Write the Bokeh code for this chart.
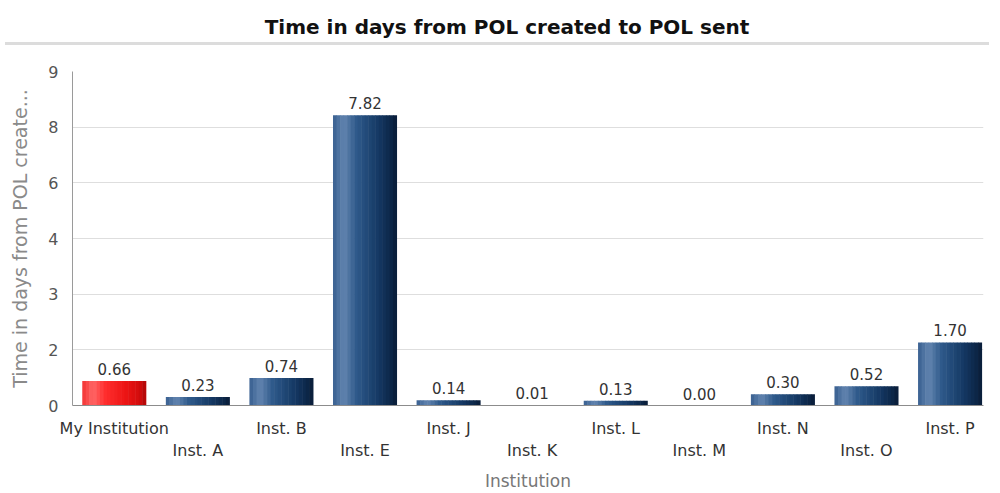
from bokeh.plotting import figure
from bokeh.models import ColumnDataSource, FixedTicker, Range1d, LinearAxis, Div
from bokeh.layouts import column
from bokeh.transform import dodge
from bokeh.core.properties import value
from bokeh.embed import file_html
from bokeh.resources import INLINE

# ---- data ----
categories = ["My Institution", "Inst. A", "Inst. B", "Inst. E", "Inst. J", "Inst. K",
              "Inst. L", "Inst. M", "Inst. N", "Inst. O", "Inst. P"]
values = [0.66, 0.23, 0.74, 7.82, 0.14, 0.01, 0.13, 0.00, 0.30, 0.52, 1.70]
highlight = ["My Institution"]
y_tick_values = [0, 1.5, 3, 4.5, 6, 7.5, 9]
y_tick_labels = ["0", "2", "3", "4", "6", "8", "9"]
title_text = "Time in days from POL created to POL sent"
x_title = "Institution"
y_title = "Time in days from POL create..."

FONT = "DejaVu Sans"
idx = list(range(len(categories)))
src = ColumnDataSource(dict(x=idx, top=values, lbl=[f"{v:.2f}" for v in values]))
src_blue = ColumnDataSource(dict(x=[i for i, c in zip(idx, categories) if c not in highlight],
                                 top=[v for v, c in zip(values, categories) if c not in highlight]))
src_red = ColumnDataSource(dict(x=[i for i, c in zip(idx, categories) if c in highlight],
                                top=[v for v, c in zip(values, categories) if c in highlight]))

title = Div(text=f"<div style='box-sizing:border-box;width:984px;padding-left:20px;height:40px;"
                 f"line-height:44px;text-align:center;font-family:{FONT};font-weight:bold;"
                 f"font-size:20px;color:#111;border-bottom:3px solid #dcdcdc;'>{title_text}</div>",
            width=984, height=40)

p = figure(width=984, height=443, output_backend="svg", toolbar_location=None, title=None,
           x_range=Range1d(-0.5, len(categories) - 0.6), y_range=Range1d(0, 9),
           min_border_left=72, min_border_right=1, min_border_top=21, min_border_bottom=0)
p.outline_line_color = None
p.background_fill_color = "white"
p.xgrid.grid_line_color = None
p.ygrid.ticker = FixedTicker(ticks=y_tick_values)
p.ygrid.grid_line_color = "#dedede"
p.ygrid.grid_line_width = 1


def hex2rgb(h):
    return tuple(int(h[i:i + 2], 16) for i in (1, 3, 5))


def grad(stops, n):
    out = []
    for k in range(n):
        t = k / (n - 1)
        for j in range(len(stops) - 1):
            t0, c0 = stops[j]
            t1, c1 = stops[j + 1]
            if t0 <= t <= t1:
                f = (t - t0) / (t1 - t0) if t1 > t0 else 0
                a, b = hex2rgb(c0), hex2rgb(c1)
                out.append("#%02x%02x%02x" % tuple(round(a[i] + (b[i] - a[i]) * f) for i in range(3)))
                break
    return out


N = 18
blue_grad = grad([(0, "#3f6595"), (0.15, "#6385b0"), (0.35, "#2f5a8b"), (0.7, "#163b67"),
                  (0.93, "#0c2749"), (1, "#0a1f3c")], N)
red_grad = grad([(0, "#f53c3c"), (0.15, "#ff6666"), (0.35, "#ff2e2e"), (0.7, "#ec1414"),
                 (0.93, "#d20c0c"), (1, "#b80808")], N)
BW = 0.76
sw = BW / N
for k in range(N):
    off = -BW / 2 + sw * (k + 0.5)
    p.vbar(x=dodge("x", off, range=p.x_range), top="top", width=sw * 1.15, bottom=0,
           source=src_blue, fill_color=blue_grad[k], line_color=None)
    p.vbar(x=dodge("x", off, range=p.x_range), top="top", width=sw * 1.15, bottom=0,
           source=src_red, fill_color=red_grad[k], line_color=None)

p.text(x="x", y="top", text="lbl", source=src, text_align="center", text_baseline="bottom",
       y_offset=-6, text_font=value(FONT), text_font_size="15px", text_color="#333333")

# y axis
ya = p.yaxis[0]
ya.ticker = FixedTicker(ticks=y_tick_values)
ya.major_label_overrides = {v: l for v, l in zip(y_tick_values, y_tick_labels)}
ya.bounds = (0, 9)
ya.axis_line_color = "#9a9a9a"
ya.major_tick_line_color = None
ya.minor_tick_line_color = None
ya.major_label_text_font = FONT
ya.major_label_text_font_size = "16px"
ya.major_label_text_color = "#555555"
ya.major_label_standoff = 8
ya.axis_label = y_title
ya.axis_label_text_font = FONT
ya.axis_label_text_font_size = "19px"
ya.axis_label_text_font_style = "normal"
ya.axis_label_text_color = "#8a8a8a"
ya.axis_label_standoff = 14

# x axes (staggered labels)
even = [i for i in idx if i % 2 == 0]
odd = [i for i in idx if i % 2 == 1]
xa = p.xaxis[0]
xa.ticker = FixedTicker(ticks=even)
xa.major_label_overrides = {i: categories[i] for i in even}
xa2 = LinearAxis(ticker=FixedTicker(ticks=odd),
                 major_label_overrides={i: categories[i] for i in odd})
p.add_layout(xa2, "below")
for a in (xa, xa2):
    a.major_tick_line_color = None
    a.minor_tick_line_color = None
    a.major_tick_out = 0
    a.major_tick_in = 0
    a.major_label_text_font = FONT
    a.major_label_text_font_size = "16px"
    a.major_label_text_color = "#333333"
xa.axis_line_color = "#8c8c8c"
xa.major_label_standoff = 13
xa2.axis_line_color = None
xa2.major_label_standoff = 0
xa2.axis_label = x_title
xa2.axis_label_text_font = FONT
xa2.axis_label_text_font_size = "17px"
xa2.axis_label_text_font_style = "normal"
xa2.axis_label_text_color = "#777777"
xa2.axis_label_standoff = 8

layout = column(title, p, spacing=0)
open("out.html", "w").write(file_html(layout, INLINE))
